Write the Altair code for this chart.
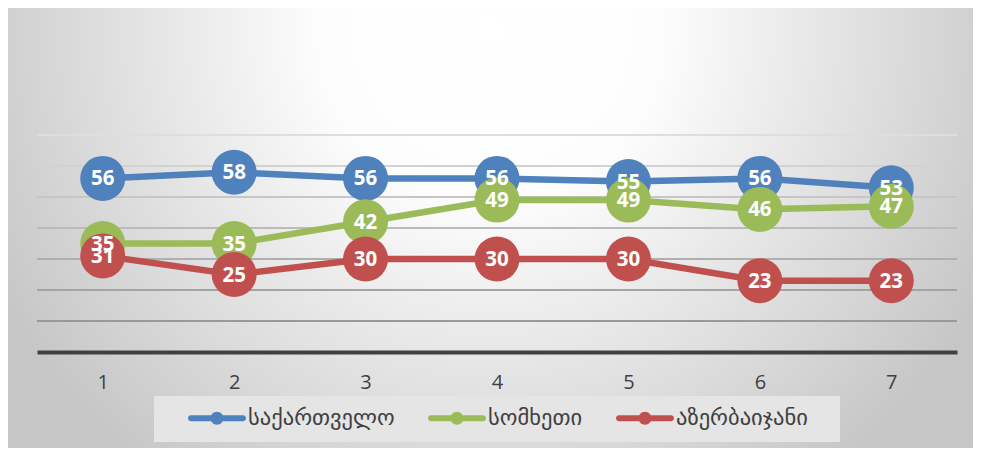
import altair as alt
import pandas as pd

categories = ["1", "2", "3", "4", "5", "6", "7"]
series_names = ["საქართველო", "სომხეთი", "აზერბაიჯანი"]
georgia = [56, 58, 56, 56, 55, 56, 53]
armenia = [35, 35, 42, 49, 49, 46, 47]
azerbaijan = [31, 25, 30, 30, 30, 23, 23]
colors = ["#4F81BD", "#9BBB59", "#C0504D"]
grid_values = [10, 20, 30, 40, 50, 60, 70]

rows = []
for name, vals in zip(series_names, [georgia, armenia, azerbaijan]):
    for c, v in zip(categories, vals):
        rows.append({"x": c, "value": v, "series": name})
df = pd.DataFrame(rows)
grid_df = pd.DataFrame({"g": grid_values})

W, H = 920, 217
PAD = {"left": 29, "top": 127, "right": 16, "bottom": 96}
TOTAL_W = PAD["left"] + W + PAD["right"]

x_enc = alt.X(
    "x:O",
    sort=categories,
    scale=alt.Scale(type="point", padding=0.5),
    axis=alt.Axis(
        title=None, ticks=False, labelAngle=0, labelFont="Open Sans",
        labelFontSize=20, labelColor="#404040", labelPadding=20,
        domainColor="#404040", domainWidth=4, grid=False, zindex=1,
    ),
)
y_enc = alt.Y("value:Q", scale=alt.Scale(domain=[0, 70], nice=False, zero=True), axis=None)
color_scale = alt.Scale(domain=series_names, range=colors)

gradient = alt.RadialGradient(
    gradient="radial",
    stops=[
        alt.GradientStop(color="#ffffff", offset=0),
        alt.GradientStop(color="#fdfdfd", offset=0.3),
        alt.GradientStop(color="#c6c6c6", offset=1),
    ],
    x1=0.5, y1=0.023, r1=0, x2=0.5, y2=0.023, r2=0.58,
)

bg = alt.Chart(alt.Data(values=[{}])).mark_rect(fill=gradient).encode(
    x=alt.value(-PAD["left"]), x2=alt.value(W + PAD["right"]),
    y=alt.value(-PAD["top"]), y2=alt.value(-PAD["top"] + TOTAL_W),
)

legend_box = alt.Chart(alt.Data(values=[{}])).mark_rect(fill="#e5e5e5").encode(
    x=alt.value(117), x2=alt.value(803), y=alt.value(261), y2=alt.value(307),
)

grid = alt.Chart(grid_df).mark_rule(strokeWidth=2).encode(
    y=alt.Y("g:Q", scale=alt.Scale(domain=[0, 70], nice=False, zero=True), axis=None),
    x=alt.value(0), x2=alt.value(W),
    stroke=alt.Stroke("g:Q", scale=alt.Scale(domain=[10, 70], range=["#999999", "#dedede"]), legend=None),
)

sym_path = ("M-0.897,-0.103 L0.897,-0.103 A0.103,0.103 0 0,1 0.897,0.103 "
            "L-0.897,0.103 A0.103,0.103 0 0,1 -0.897,-0.103 Z "
            "M0.224,0 A0.224,0.224 0 1,1 -0.224,0 A0.224,0.224 0 1,1 0.224,0 Z")

legend = alt.Legend(
    title=None, orient="none", legendX=151, legendY=254, direction="horizontal",
    symbolType=sym_path, symbolSize=3364, symbolStrokeWidth=0, symbolOpacity=1,
    labelFont="DejaVu Sans", labelFontSize=22.5, labelColor="#404040",
    labelOffset=2, columnPadding=32, padding=0, labelLimit=400,
)

layers = [bg, legend_box, grid]
base = alt.Chart(df)
for i, name in enumerate(series_names):
    sub = base.transform_filter(alt.datum.series == name)
    line = sub.mark_line(strokeWidth=6.5, color=colors[i]).encode(x=x_enc, y=y_enc)
    pts = sub.mark_circle(size=2025, opacity=1).encode(
        x=x_enc, y=y_enc,
        color=alt.Color("series:N", scale=color_scale, legend=legend),
    )
    layers += [line, pts]

labels = base.mark_text(
    color="white", font="Open Sans", fontWeight="bold", fontSize=20.5,
    align="center", baseline="middle", dy=1,
).encode(x=x_enc, y=y_enc, text="value:Q")
layers.append(labels)

chart = alt.layer(*layers).properties(
    width=W, height=H,
    autosize=alt.AutoSizeParams(type="none"),
    padding=PAD,
    background="#c8c8c8",
).configure_view(stroke=None)

chart.save("out.html", embed_options={"renderer": "svg", "actions": False})
